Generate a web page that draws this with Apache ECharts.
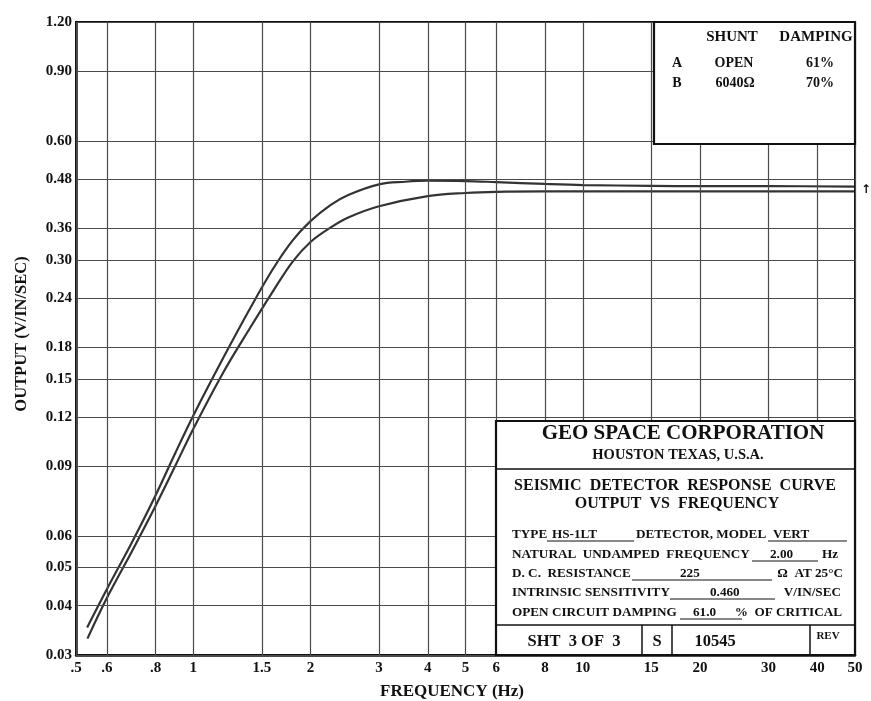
<!DOCTYPE html>
<html><head><meta charset="utf-8">
<script src="https://cdn.jsdelivr.net/npm/echarts@6/dist/echarts.min.js"></script>
<style>html,body{margin:0;padding:0;background:#fff;}#c{width:871px;height:701px;}</style>
</head><body><div id="c"></div>
<script>
// ---- axis ticks ----
const xTicks = [0.5, 0.6, 0.8, 1, 1.5, 2, 3, 4, 5, 6, 8, 10, 15, 20, 30, 40, 50];
const xTickLabels = ['.5', '.6', '.8', '1', '1.5', '2', '3', '4', '5', '6', '8', '10', '15', '20', '30', '40', '50'];
const yTicks = [0.03, 0.04, 0.05, 0.06, 0.09, 0.12, 0.15, 0.18, 0.24, 0.30, 0.36, 0.48, 0.60, 0.90, 1.20];
const yTickLabels = ['0.03', '0.04', '0.05', '0.06', '0.09', '0.12', '0.15', '0.18', '0.24', '0.30', '0.36', '0.48', '0.60', '0.90', '1.20'];

// ---- curve A (shunt OPEN, 61% damping) ----
const freqA = [0.534, 0.6, 0.7, 0.8, 0.9, 1.0, 1.2, 1.4, 1.6, 1.8, 2.0, 2.25, 2.5, 3.0, 3.5, 4.0, 5.0, 6.0, 8.0, 10, 15, 20, 30, 50];
const outA  = [0.0352, 0.044, 0.0585, 0.076, 0.0975, 0.121, 0.171, 0.2263, 0.284, 0.336, 0.376, 0.413, 0.438, 0.466, 0.473, 0.476, 0.475, 0.472, 0.467, 0.464, 0.462, 0.461, 0.461, 0.460];
// ---- curve B (shunt 6040 ohm, 70% damping) ----
const freqB = [0.535, 0.6, 0.7, 0.8, 0.9, 1.0, 1.2, 1.4, 1.6, 1.8, 2.0, 2.25, 2.5, 3.0, 4.0, 5.0, 6.0, 8.0, 10, 20, 50];
const outB  = [0.0330, 0.0418, 0.0555, 0.0715, 0.0905, 0.112, 0.157, 0.202, 0.2494, 0.297, 0.333, 0.362, 0.384, 0.410, 0.435, 0.443, 0.446, 0.447, 0.447, 0.447, 0.447];

const SERIF = '"Liberation Serif", "Times New Roman", serif';
const chart = echarts.init(document.getElementById('c'), null, {renderer: 'canvas'});

function txt(s, x, y, size, opts) {
  opts = opts || {};
  return {
    type: 'text', x: x, y: y, z: 20, silent: true,
    rotation: opts.rot || 0,
    style: {
      text: s, fill: '#111',
      font: (opts.thin ? '' : 'bold ') + size + 'px ' + (opts.family || SERIF),
      textAlign: opts.align || 'center', textVerticalAlign: 'middle'
    }
  };
}
function ln(x1, y1, x2, y2, w) {
  return {type: 'line', z: 19, silent: true, shape: {x1: x1, y1: y1, x2: x2, y2: y2}, style: {stroke: '#111', lineWidth: w || 1}};
}
function box(x, y, w, h) {
  return {type: 'rect', z: 18, silent: true, shape: {x: x, y: y, width: w, height: h}, style: {fill: '#fff', stroke: '#111', lineWidth: 2.2}};
}

const graphics = [
  // legend box
  box(654, 22, 201, 122),
  txt('SHUNT', 732, 37, 15),
  txt('DAMPING', 816, 37, 15),
  txt('A', 677, 63, 14),
  txt('OPEN', 734, 63, 14),
  txt('61%', 820, 63, 14),
  txt('B', 677, 83, 14),
  txt('6040Ω', 735, 83, 14),
  txt('70%', 820, 83, 14),
  // title block
  box(496, 421, 359, 234),
  ln(496, 469, 855, 469, 1.5),
  ln(496, 625, 855, 625, 1.5),
  ln(642, 625, 642, 655, 1.5),
  ln(672, 625, 672, 655, 1.5),
  ln(810, 625, 810, 655, 1.5),
  txt('GEO SPACE CORPORATION', 683, 434, 21),
  txt('HOUSTON TEXAS, U.S.A.', 678, 455, 14.5),
  txt('SEISMIC  DETECTOR  RESPONSE  CURVE', 675, 486, 16),
  txt('OUTPUT  VS  FREQUENCY', 677, 504, 16),
  txt('TYPE', 512, 535, 13.2, {align: 'left'}),
  txt('HS-1LT', 552, 535, 13.2, {align: 'left'}),
  txt('DETECTOR, MODEL', 636, 535, 13.2, {align: 'left'}),
  txt('VERT', 773, 535, 13.2, {align: 'left'}),
  ln(547, 541, 634, 541), ln(768, 541, 847, 541),
  txt('NATURAL  UNDAMPED  FREQUENCY', 512, 555, 13.2, {align: 'left'}),
  txt('2.00', 770, 555, 13.2, {align: 'left'}),
  txt('Hz', 838, 555, 13.2, {align: 'right'}),
  ln(752, 561, 818, 561),
  txt('D. C.  RESISTANCE', 512, 574, 13.2, {align: 'left'}),
  txt('225', 680, 574, 13.2, {align: 'left'}),
  txt('Ω  AT 25°C', 843, 574, 13.2, {align: 'right'}),
  ln(632, 580, 772, 580),
  txt('INTRINSIC SENSITIVITY', 512, 593, 13.2, {align: 'left'}),
  txt('0.460', 710, 593, 13.2, {align: 'left'}),
  txt('V/IN/SEC', 841, 593, 13.2, {align: 'right'}),
  ln(670, 599, 775, 599),
  txt('OPEN CIRCUIT DAMPING', 512, 613, 13.2, {align: 'left'}),
  txt('61.0', 693, 613, 13.2, {align: 'left'}),
  txt('%  OF CRITICAL', 842, 613, 13.2, {align: 'right'}),
  ln(680, 619, 742, 619),
  txt('SHT  3 OF  3', 574, 642, 16.5),
  txt('S', 657, 642, 16.5),
  txt('10545', 715, 642, 16.5),
  txt('REV', 828, 636, 11),
  // axis names
  txt('FREQUENCY (Hz)', 452, 692, 17),
  txt('OUTPUT (V/IN/SEC)', 22, 334, 16.5, {rot: Math.PI / 2}),
  txt('↑', 866, 190, 12, {family: '"DejaVu Sans", sans-serif'})
];

const labelFont = {color: '#111', fontFamily: SERIF, fontSize: 15, fontWeight: 'bold'};
const gridLine = {type: 'solid', color: '#4a4a4a', width: 1.2};

chart.setOption({
  animation: false,
  backgroundColor: '#fff',
  grid: {left: 76, right: 16, top: 22, bottom: 46, show: true, borderColor: '#111', borderWidth: 2, z: 4},
  xAxis: {
    type: 'log', logBase: 10, min: 0.5, max: 50, z: 4,
    axisLine: {show: true, lineStyle: {color: '#111', width: 2.5}},
    axisTick: {show: false}, axisLabel: {show: false}, splitLine: {show: false}, minorSplitLine: {show: false}
  },
  yAxis: {
    type: 'log', logBase: 10, min: 0.03, max: 1.2, z: 4,
    axisLine: {show: true, lineStyle: {color: '#111', width: 2.5}},
    axisTick: {show: false}, axisLabel: {show: false}, splitLine: {show: false}, minorSplitLine: {show: false}
  },
  series: [
    {
      name: 'gridX', type: 'line', data: [], z: 1, silent: true,
      markLine: {
        silent: true, symbol: ['none', 'none'], animation: false,
        lineStyle: gridLine,
        label: Object.assign({show: true, position: 'start', formatter: '{b}', distance: 6}, labelFont),
        emphasis: {disabled: true},
        data: xTicks.map((v, i) => ({xAxis: v, name: xTickLabels[i]}))
      }
    },
    {
      name: 'gridY', type: 'line', data: [], z: 1, silent: true,
      markLine: {
        silent: true, symbol: ['none', 'none'], animation: false,
        lineStyle: gridLine,
        label: Object.assign({show: true, position: 'start', formatter: '{b}', distance: 4}, labelFont),
        emphasis: {disabled: true},
        data: yTicks.map((v, i) => ({yAxis: v, name: yTickLabels[i]}))
      }
    },
    {
      name: 'A', type: 'line', z: 3, symbol: 'none', smooth: 0.35,
      lineStyle: {color: '#333', width: 2.2},
      data: freqA.map((f, i) => [f, outA[i]])
    },
    {
      name: 'B', type: 'line', z: 3, symbol: 'none', smooth: 0.35,
      lineStyle: {color: '#333', width: 2.2},
      data: freqB.map((f, i) => [f, outB[i]])
    }
  ],
  graphic: graphics
});
</script>
</body></html>
